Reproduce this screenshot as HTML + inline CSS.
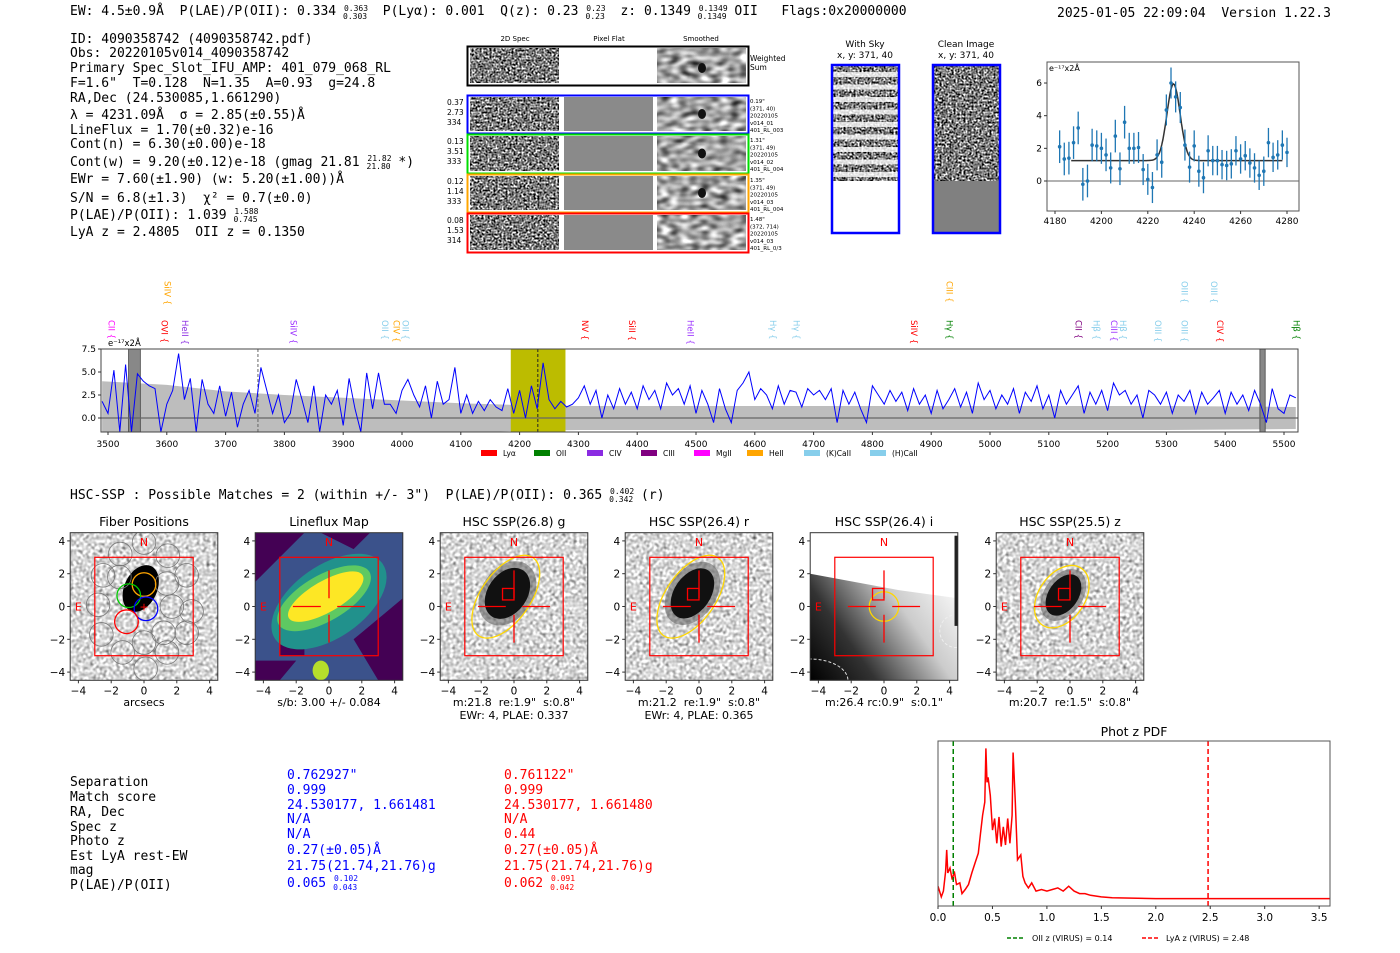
<!DOCTYPE html>
<html><head><meta charset="utf-8">
<style>
html,body{margin:0;padding:0;background:#fff;}
svg{display:block;}
svg text{white-space:pre;}
.m{font-family:"DejaVu Sans Mono","Liberation Mono",monospace;font-size:13px;}
.s{font-family:"DejaVu Sans","Liberation Sans",sans-serif;}
</style></head>
<body>
<svg id="root" width="1400" height="953" viewBox="0 0 1400 953" xmlns="http://www.w3.org/2000/svg">
<defs>
<filter id="noise" x="0" y="0" width="100%" height="100%" color-interpolation-filters="sRGB">
<feTurbulence type="fractalNoise" baseFrequency="0.5" numOctaves="1" seed="3"/>
<feColorMatrix type="matrix" values="0.33 0.33 0.33 0 0  0.33 0.33 0.33 0 0  0.33 0.33 0.33 0 0  0 0 0 0 1"/>
<feComponentTransfer><feFuncR type="linear" slope="4" intercept="-1.5"/><feFuncG type="linear" slope="4" intercept="-1.5"/><feFuncB type="linear" slope="4" intercept="-1.5"/></feComponentTransfer>
</filter>
<filter id="lnoise" x="0" y="0" width="100%" height="100%" color-interpolation-filters="sRGB">
<feTurbulence type="fractalNoise" baseFrequency="0.3" numOctaves="1" seed="7"/>
<feColorMatrix type="matrix" values="0.33 0.33 0.33 0 0  0.33 0.33 0.33 0 0  0.33 0.33 0.33 0 0  0 0 0 0 1"/>
<feComponentTransfer><feFuncR type="linear" slope="1.8" intercept="-0.05"/><feFuncG type="linear" slope="1.8" intercept="-0.05"/><feFuncB type="linear" slope="1.8" intercept="-0.05"/></feComponentTransfer>
</filter>
<filter id="smooth" x="0" y="0" width="100%" height="100%" color-interpolation-filters="sRGB">
<feTurbulence type="fractalNoise" baseFrequency="0.1 0.18" numOctaves="1" seed="5"/>
<feColorMatrix type="matrix" values="0.33 0.33 0.33 0 0  0.33 0.33 0.33 0 0  0.33 0.33 0.33 0 0  0 0 0 0 1"/>
<feComponentTransfer><feFuncR type="linear" slope="2.5" intercept="-0.6"/><feFuncG type="linear" slope="2.5" intercept="-0.6"/><feFuncB type="linear" slope="2.5" intercept="-0.6"/></feComponentTransfer>
</filter>
<linearGradient id="igrad" x1="1" y1="0.3" x2="0" y2="1">
<stop offset="0" stop-color="#fff"/><stop offset="0.35" stop-color="#ccc"/><stop offset="0.7" stop-color="#333"/><stop offset="1" stop-color="#000"/>
</linearGradient>
<clipPath id="specclip"><rect x="101" y="349" width="1197" height="83"/></clipPath>
<clipPath id="zclip"><rect x="1047" y="62" width="252" height="149"/></clipPath>
<clipPath id="pclip"><rect x="938" y="741" width="392" height="165"/></clipPath>
</defs>

<!-- header -->
<text class="m" x="70" y="15">EW: 4.5±0.9Å  P(LAE)/P(OII): 0.334 <tspan font-size="8" dy="-4">0.363</tspan><tspan font-size="8" dx="-25" dy="8">0.303</tspan><tspan dy="-4">  P(Lyα): 0.001  Q(z): 0.23 </tspan><tspan font-size="8" dy="-4">0.23</tspan><tspan font-size="8" dx="-20" dy="8">0.23</tspan><tspan dy="-4">  z: 0.1349 </tspan><tspan font-size="8" dy="-4">0.1349</tspan><tspan font-size="8" dx="-30" dy="8">0.1349</tspan><tspan dy="-4"> OII   Flags:0x20000000</tspan></text>
<text class="m" x="1057" y="17">2025-01-05 22:09:04  Version 1.22.3</text>

<g class="m">
<text x="70" y="43">ID: 4090358742 (4090358742.pdf)</text>
<text x="70" y="57">Obs: 20220105v014_4090358742</text>
<text x="70" y="72">Primary Spec_Slot_IFU_AMP: 401_079_068_RL</text>
<text x="70" y="87">F=1.6"  T=0.128  N=1.35  A=0.93  g=24.8</text>
<text x="70" y="102">RA,Dec (24.530085,1.661290)</text>
<text x="70" y="119">λ = 4231.09Å  σ = 2.85(±0.55)Å</text>
<text x="70" y="134">LineFlux = 1.70(±0.32)e-16</text>
<text x="70" y="148">Cont(n) = 6.30(±0.00)e-18</text>
<text x="70" y="166">Cont(w) = 9.20(±0.12)e-18 (gmag 21.81 <tspan font-size="8" dy="-5">21.82</tspan><tspan font-size="8" dx="-25" dy="8">21.80</tspan><tspan dy="-3"> *)</tspan></text>
<text x="70" y="183">EWr = 7.60(±1.90) (w: 5.20(±1.00))Å</text>
<text x="70" y="202">S/N = 6.8(±1.3)  χ² = 0.7(±0.0)</text>
<text x="70" y="219">P(LAE)/P(OII): 1.039 <tspan font-size="8" dy="-5">1.588</tspan><tspan font-size="8" dx="-25" dy="8">0.745</tspan></text>
<text x="70" y="236">LyA z = 2.4805  OII z = 0.1350</text>
</g>

<g id="spec2d" class="s"></g>
<g id="skyimgs" class="s"></g>
<g id="zoomfit" class="s"></g>
<g id="fullspec" class="s"></g>

<text class="m" x="70" y="499">HSC-SSP : Possible Matches = 2 (within +/- 3")  P(LAE)/P(OII): 0.365 <tspan font-size="8" dy="-5">0.402</tspan><tspan font-size="8" dx="-25" dy="8">0.342</tspan><tspan dy="-3"> (r)</tspan></text>

<g id="panels" class="s"></g>

<g class="m">
<text x="70" y="786">Separation</text>
<text x="70" y="801">Match score</text>
<text x="70" y="816">RA, Dec</text>
<text x="70" y="831">Spec z</text>
<text x="70" y="845">Photo z</text>
<text x="70" y="860">Est LyA rest-EW</text>
<text x="70" y="874">mag</text>
<text x="70" y="889">P(LAE)/P(OII)</text>
<g fill="#0000ff">
<text x="287" y="779">0.762927"</text>
<text x="287" y="794">0.999</text>
<text x="287" y="809">24.530177, 1.661481</text>
<text x="287" y="823">N/A</text>
<text x="287" y="838">N/A</text>
<text x="287" y="854">0.27(±0.05)Å</text>
<text x="287" y="870">21.75(21.74,21.76)g</text>
<text x="287" y="887">0.065 <tspan font-size="8" dy="-6">0.102</tspan><tspan font-size="8" dx="-25" dy="9">0.043</tspan></text>
</g>
<g fill="#ff0000">
<text x="504" y="779">0.761122"</text>
<text x="504" y="794">0.999</text>
<text x="504" y="809">24.530177, 1.661480</text>
<text x="504" y="823">N/A</text>
<text x="504" y="838">0.44</text>
<text x="504" y="854">0.27(±0.05)Å</text>
<text x="504" y="870">21.75(21.74,21.76)g</text>
<text x="504" y="887">0.062 <tspan font-size="8" dy="-6">0.091</tspan><tspan font-size="8" dx="-25" dy="9">0.042</tspan></text>
</g>
</g>

<g id="photz" class="s"></g>
</svg>

<script>
// ---------- data ----------
var specStart = 3490, specStep = 10;
var specFlux = [1.8,0.5,5.2,-1.5,5.8,-1.5,4.8,4.0,3.5,3.2,-1.5,
1.5,3.0,7.0,2.0,4.3,-1.5,4.2,1.5,0.5,3.5,0.2,
2.8,-1.0,1.5,3.0,0.5,5.5,3.0,0.5,2.5,-0.5,
0.5,4.2,2.0,-0.5,3.5,-1.5,2.5,1.5,3.0,-0.8,
4.3,1.0,-1.5,4.9,1.0,4.9,1.5,1.5,0.5,3.0,
4.2,2.5,1.2,3.5,0.0,4.0,1.5,2.0,5.5,0.5,
2.5,0.5,1.8,0.8,2.0,1.2,0.8,3.2,0.5,3.0,
0.0,3.5,1.0,6.0,2.0,1.0,1.8,1.2,1.5,2.2,
3.5,1.5,3.0,0.0,2.5,1.0,3.2,1.5,2.8,1.0,
3.5,2.0,3.0,1.0,3.8,2.5,3.2,1.5,3.5,0.5,
3.0,1.5,-0.5,3.2,1.0,-0.5,3.0,3.8,5.0,2.0,
3.2,2.5,1.0,3.5,1.5,3.0,2.8,1.2,3.2,2.5,
3.0,2.0,3.2,-0.5,3.0,1.5,2.8,1.0,-0.5,3.5,
2.5,1.5,3.0,1.8,2.8,0.8,3.2,1.5,2.5,0.5,
3.0,1.0,2.0,3.2,1.2,2.8,0.5,3.8,2.0,3.0,
1.0,2.5,1.5,3.2,0.5,2.8,1.8,3.5,1.0,2.5,
0.0,3.0,1.5,2.5,3.5,0.5,2.8,1.5,3.0,0.8,
3.8,2.5,3.0,1.5,2.5,0.0,3.0,2.5,1.5,2.8,
0.5,2.5,1.8,3.0,0.5,2.8,1.5,2.2,3.0,0.5,
2.8,1.5,2.5,0.8,3.0,1.5,-0.5,3.2,1.0,0.5,
2.5,2.2];
var errWave = [3490,3600,3700,3800,3900,4000,4100,4200,4300,4500,5000,5300,5520];
var errVal  = [4.0,3.6,2.9,2.5,2.2,1.9,1.6,1.4,1.3,1.3,1.3,1.3,1.2];
var specTicksX = [3500,3600,3700,3800,3900,4000,4100,4200,4300,4400,4500,4600,4700,4800,4900,5000,5100,5200,5300,5400,5500];
var specTicksY = [0,2.5,5,7.5];
var lineNames = ["CII","OVI","SiIV","HeII","SiIV","OII","CIV","OII","NV","SiII","HeII","Hγ","Hγ","SiIV","Hγ","CIII","CII","Hβ","CIII","Hβ","OIII","OIII","OIII","OIII","CIV","Hβ"];
var lineWave = [3505,3595,3600,3630,3815,3970,3990,4005,4310,4390,4490,4630,4670,4870,4930,4930,5150,5180,5210,5225,5285,5330,5330,5380,5390,5520];
var lineColors = ["#ff00ff","#ff0000","#ffa500","#8a2be2","#9b30ff","#87ceeb","#ffa500","#87ceeb","#ff0000","#ff0000","#9b30ff","#87ceeb","#87ceeb","#ff0000","#008000","#ffa500","#800080","#87ceeb","#9b30ff","#87ceeb","#87ceeb","#87ceeb","#87ceeb","#87ceeb","#ff0000","#008000"];
var lineRow = [0,0,1,0,0,0,0,0,0,0,0,0,0,0,0,1,0,0,0,0,0,0,1,1,0,0];
var legendNames = ["Lyα","OII","CIV","CIII","MgII","HeII","(K)CaII","(H)CaII"];
var legendColors = ["#ff0000","#008000","#8a2be2","#800080","#ff00ff","#ffa500","#87ceeb","#87ceeb"];

var fitWave = [4182,4184,4186,4188,4190,4192,4194,4196,4198,4200,4202,4204,4206,4208,4210,4212,4214,4216,4218,4220,4222,4224,4226,4228,4230,4232,4234,4236,4238,4240,4242,4244,4246,4248,4250,4252,4254,4256,4258,4260,4262,4264,4266,4268,4270,4272,4274,4276,4278,4280];
var fitFlux = [2.1,1.35,1.4,2.35,3.25,-0.2,0,2.2,2.15,2.0,1.6,0.8,2.75,0.75,3.6,2.0,2.0,2.05,0.7,0.1,-0.4,1.6,1.15,4.35,6.0,5.15,4.5,2.2,0.85,2.15,0.6,0.2,1.85,1.25,1.25,1.0,0.95,1.05,1.85,1.35,1.55,1.1,0.8,0.35,0.6,2.35,1.45,1.6,2.2,1.75];
var fitErr = [1.0,1.0,1.0,1.0,1.0,1.0,1.0,1.0,0.95,0.95,1.0,0.95,1.0,1.0,1.0,0.95,0.95,0.95,0.95,0.95,0.95,0.95,0.95,0.95,0.95,0.95,0.95,0.95,0.95,0.95,0.95,0.95,0.95,0.9,0.9,0.9,0.9,0.9,0.9,0.9,0.9,0.9,0.9,0.9,0.9,0.9,0.9,0.9,0.9,0.9];
var fitParams = [4231.09, 2.85, 4.7, 1.25]; // center, sigma, amplitude, continuum
var fitTicksX = [4180,4200,4220,4240,4260,4280];
var fitTicksY = [0,2,4,6];

var pdfZ = [0.00,0.03,0.05,0.07,0.08,0.09,0.11,0.13,0.15,0.17,0.20,0.22,0.25,0.28,0.31,0.34,0.37,0.39,0.41,0.43,0.44,0.45,0.46,0.48,0.50,0.52,0.54,0.56,0.58,0.60,0.62,0.64,0.66,0.68,0.69,0.71,0.73,0.76,0.78,0.80,0.83,0.86,0.90,0.95,1.00,1.05,1.10,1.15,1.20,1.25,1.30,1.35,1.40,1.50,1.60,2.00,3.60];
var pdfVal = [0.12,0.055,0.09,0.21,0.34,0.20,0.23,0.16,0.21,0.13,0.14,0.075,0.10,0.13,0.20,0.26,0.32,0.44,0.55,0.63,0.955,0.75,0.78,0.67,0.46,0.53,0.38,0.54,0.36,0.48,0.37,0.53,0.38,0.55,0.93,0.63,0.28,0.31,0.18,0.14,0.11,0.14,0.09,0.10,0.09,0.10,0.11,0.09,0.12,0.09,0.075,0.075,0.065,0.055,0.05,0.045,0.045];
var pdfTicks = [0.0,0.5,1.0,1.5,2.0,2.5,3.0,3.5];
var oiiZ = 0.14, lyaZ = 2.48;

var panelTitles = ["Fiber Positions","Lineflux Map","HSC SSP(26.8) g","HSC SSP(26.4) r","HSC SSP(26.4) i","HSC SSP(25.5) z"];
var panelCaption1 = ["arcsecs","s/b: 3.00 +/- 0.084","m:21.8  re:1.9\"  s:0.8\"","m:21.2  re:1.9\"  s:0.8\"","m:26.4 rc:0.9\"  s:0.1\"","m:20.7  re:1.5\"  s:0.8\""];
var panelCaption2 = ["","","EWr: 4, PLAE: 0.337","EWr: 4, PLAE: 0.365","",""];
var panelTicks = [-4,-2,0,2,4];

// ---------- helpers ----------
var NS = "http://www.w3.org/2000/svg";
function mk(parent, tag, attrs, txt){
  var e = document.createElementNS(NS, tag);
  for (var k in attrs) e.setAttribute(k, attrs[k]);
  if (txt !== undefined) e.textContent = txt;
  parent.appendChild(e);
  return e;
}
function fmt(v){ return (v<0?"\u2212":"") + Math.abs(v); }

// ---------- 2D spectra ----------
(function(){
  var g = document.getElementById("spec2d");
  var hdr = [["2D Spec",515],["Pixel Flat",609],["Smoothed",701]];
  hdr.forEach(function(h){ var t=mk(g,"text",{x:h[1],y:41,"font-size":7,"text-anchor":"middle"},h[0]);
    
     });
  var rows = [{y:46,h:39,c:"#000",lbl:null,r:["Weighted","Sum"]},
    {y:95,h:38,c:"#0000ff",lbl:["0.37","2.73","334"],r:["0.19\"","(371, 40)","20220105","v014_01","401_RL_003"]},
    {y:134,h:39,c:"#00dd00",lbl:["0.13","3.51","333"],r:["1.31\"","(371, 49)","20220105","v014_02","401_RL_004"]},
    {y:174,h:38,c:"#ffa500",lbl:["0.12","1.14","333"],r:["1.35\"","(371, 49)","20220105","v014_03","401_RL_004"]},
    {y:213,h:39,c:"#ff0000",lbl:["0.08","1.53","314"],r:["1.48\"","(372, 714)","20220105","v014_03","401_RL_0/3"]}];
  rows.forEach(function(r,i){
    var a = mk(g,"rect",{x:470,y:r.y+2,width:89,height:r.h-4,fill:"#888",filter:"url(#noise)"});
    
    
    var b = mk(g,"rect",{x:564,y:r.y+2,width:89,height:r.h-4,fill:i==0?"#fff":"#8a8a8a"});
    
    
    var c = mk(g,"rect",{x:657,y:r.y+2,width:89,height:r.h-4,fill:"#999",filter:"url(#smooth)"});
    
    
    if (i!=0 && i!=4) mk(g,"ellipse",{cx:702,cy:r.y+r.h/2,rx:4,ry:5,fill:"#111"});
    if (i==0) mk(g,"ellipse",{cx:702,cy:r.y+22,rx:4,ry:5,fill:"#111"});
    var f = mk(g,"rect",{x:467.5,y:r.y+0.5,width:281,height:r.h,fill:"none",stroke:r.c,"stroke-width":2});
    
    
    if (r.lbl) r.lbl.forEach(function(s,j){ mk(g,"text",{x:447,y:r.y+10+j*10,"font-size":7.5},s); });
    var fs = i==0?7.5:5.5, dy = i==0?9:7.3;
    r.r.forEach(function(s,j){ mk(g,"text",{x:750,y:r.y+(i==0?15:8)+j*dy,"font-size":fs},s); });
  });
})();

// ---------- sky images ----------
(function(){
  var g = document.getElementById("skyimgs");
  [["With Sky",865,832],["Clean Image",966,933]].forEach(function(s,i){
    mk(g,"text",{x:s[1],y:47,"font-size":9,"text-anchor":"middle"},s[0]);
    mk(g,"text",{x:s[1],y:58,"font-size":9,"text-anchor":"middle"},"x, y: 371, 40");
    var im = mk(g,"rect",{x:s[2],y:66,width:66,height:115,fill:"#888",filter:"url(#noise)"});
    
    
    if (i==0){ for (var k=0;k<9;k++) mk(g,"rect",{x:s[2],y:72+k*12.5,width:66,height:5,fill:"#fff",opacity:0.8});
      mk(g,"rect",{x:s[2],y:181,width:66,height:51,fill:"#fff"}); }
    else mk(g,"rect",{x:s[2],y:181,width:66,height:51,fill:"#808080"});
    var fr = mk(g,"rect",{x:s[2],y:65,width:67,height:168,fill:"none",stroke:"#0000ff","stroke-width":2.5});
    
    
  });
})();

// ---------- zoom fit chart ----------
(function(){
  var g = document.getElementById("zoomfit");
  function X(w){ return 1055 + (w-4180)*2.32; }
  function Y(v){ return 181 - v*16.33; }
  var bg = mk(g,"rect",{x:1047,y:62,width:252,height:149,fill:"#fff",stroke:"#555","stroke-width":1});
  
  
  mk(g,"line",{x1:1047,x2:1299,y1:Y(0),y2:Y(0),stroke:"#666","stroke-width":1});
  var cg = mk(g,"g",{"clip-path":"url(#zclip)"});
  var pts=[];
  for (var w=4187; w<=4278; w+=0.5){ var d=(w-fitParams[0])/fitParams[1]; pts.push(X(w).toFixed(1)+","+Y(fitParams[3]+fitParams[2]*Math.exp(-0.5*d*d)).toFixed(1)); }
  var fl = mk(cg,"polyline",{points:pts.join(" "),fill:"none",stroke:"#333","stroke-width":1.5});
  
  
  for (var i=0;i<fitWave.length;i++){
    var x=X(fitWave[i]);
    var eb = mk(cg,"line",{x1:x,x2:x,y1:Y(fitFlux[i]-fitErr[i]),y2:Y(fitFlux[i]+fitErr[i]),stroke:"#1f77b4","stroke-width":1.3});
    
    
    var p = mk(cg,"circle",{cx:x,cy:Y(fitFlux[i]),r:1.8,fill:"#1f77b4"});
    
    
  }
  fitTicksX.forEach(function(t){ mk(g,"line",{x1:X(t),x2:X(t),y1:211,y2:214,stroke:"#333"});
    var l=mk(g,"text",{x:X(t),y:224,"font-size":9,"text-anchor":"middle"},t);
    
     });
  fitTicksY.forEach(function(t){ mk(g,"line",{x1:1044,x2:1047,y1:Y(t),y2:Y(t),stroke:"#333"});
    var l=mk(g,"text",{x:1042,y:Y(t)+3,"font-size":9,"text-anchor":"end"},t);
    
     });
  mk(g,"text",{x:1049,y:71,"font-size":8},"e⁻¹⁷x2Å");
})();

// ---------- full spectrum ----------
(function(){
  var g = document.getElementById("fullspec");
  function X(w){ return 108 + (w-3500)*0.588; }
  function Y(v){ return 418 - v*9.2; }
  var bg = mk(g,"rect",{x:101,y:349,width:1197,height:83,fill:"#fff"});
  
  
  var cg = mk(g,"g",{"clip-path":"url(#specclip)"});
  var up=[],dn=[];
  for (var i=0;i<errWave.length;i++){ up.push(X(errWave[i])+","+Y(errVal[i])); dn.unshift(X(errWave[i])+","+Y(-errVal[i])); }
  var env = mk(cg,"polygon",{points:up.concat(dn).join(" "),fill:"#bdbdbd"});
  
  
  var band = mk(cg,"rect",{x:X(4185),y:349,width:X(4278)-X(4185),height:83,fill:"#bcbc00"});
  
  
  [[3535,3555],[5459,5468]].forEach(function(m){
    var r = mk(cg,"rect",{x:X(m[0]),y:349,width:X(m[1])-X(m[0]),height:83,fill:"#888",stroke:"#444","stroke-width":0.8});
    
     });
  mk(cg,"line",{x1:101,x2:1298,y1:Y(0),y2:Y(0),stroke:"#666","stroke-width":1.2});
  [3755,4231].forEach(function(w,i){ mk(cg,"line",{x1:X(w),x2:X(w),y1:349,y2:432,stroke:i?"#222":"#666","stroke-dasharray":"3,2","stroke-width":1}); });
  var pts=[];
  for (var i=0;i<specFlux.length;i++) pts.push(X(specStart+i*specStep).toFixed(1)+","+Y(specFlux[i]).toFixed(1));
  var ln = mk(cg,"polyline",{points:pts.join(" "),fill:"none",stroke:"#0000ff","stroke-width":1});
  
  
  var fr = mk(g,"rect",{x:101,y:349,width:1197,height:83,fill:"none",stroke:"#444","stroke-width":1});
  
  
  specTicksX.forEach(function(t){ mk(g,"line",{x1:X(t),x2:X(t),y1:432,y2:435,stroke:"#333"});
    var l=mk(g,"text",{x:X(t),y:447,"font-size":9,"text-anchor":"middle"},t);
    
     });
  specTicksY.forEach(function(t){ mk(g,"line",{x1:98,x2:101,y1:Y(t),y2:Y(t),stroke:"#333"});
    var l=mk(g,"text",{x:96,y:Y(t)+3,"font-size":9,"text-anchor":"end"},t.toFixed(1));
    
     });
  mk(g,"text",{x:108,y:346,"font-size":8.5},"e⁻¹⁷x2Å");
  for (var i=0;i<lineNames.length;i++){
    var x = X(lineWave[i]), ytop = lineRow[i] ? 281 : 320;
    var t = mk(g,"text",{x:x,y:ytop,"font-size":8.5,fill:lineColors[i],transform:"rotate(90 "+x+" "+ytop+")","dominant-baseline":"middle"},lineNames[i]+" {");
    
    
  }
  var lx = [481,534,587,641,694,747,804,870];
  for (var i=0;i<legendNames.length;i++){
    var sw = mk(g,"rect",{x:lx[i],y:450,width:16,height:6,fill:legendColors[i]});
    
    
    var lt = mk(g,"text",{x:lx[i]+22,y:456,"font-size":7.5},legendNames[i]);
    
    
  }
})();

// ---------- imaging panels ----------
(function(){
  var g = document.getElementById("panels");
  var defs = document.querySelector("defs");
  var centers = [144,329,514,699,884,1070], cy = 606.5, s = 16.4;
  centers.forEach(function(cx,p){
    var pg = mk(g,"g",{});
    
    
    var x0=cx-4.5*s, y0=cy-4.5*s, W=9*s;
    var cp = mk(defs,"clipPath",{id:"pc"+p});
    mk(cp,"rect",{x:x0,y:y0,width:W,height:W});
    mk(pg,"text",{x:cx,y:526,"font-size":12.5,"text-anchor":"middle"},panelTitles[p]);
    var ig = mk(pg,"g",{"clip-path":"url(#pc"+p+")"});
    if (p==1){
      mk(ig,"rect",{x:x0,y:y0,width:W,height:W,fill:"#3b528b"});
      mk(ig,"polygon",{points:[cx-4.5*s,cy-1.5*s, cx-1.5*s,cy-4.5*s, cx-4.5*s,cy-4.5*s].join(" "),fill:"#440154"});
      mk(ig,"polygon",{points:[cx-0.5*s,cy-4.5*s, cx+2.5*s,cy-4.5*s, cx+1.5*s,cy-3.5*s].join(" "),fill:"#440154"});
      mk(ig,"polygon",{points:[cx-3*s,cy+1.5*s, cx-1.5*s,cy+1.5*s, cx-1.5*s,cy+3*s, cx-3*s,cy+3*s].join(" "),fill:"#440154"});
      mk(ig,"polygon",{points:[cx+1.5*s,cy+2*s, cx+4.5*s,cy-0.5*s, cx+4.5*s,cy+4.5*s, cx+3*s,cy+4.5*s].join(" "),fill:"#440154"});
      mk(ig,"polygon",{points:[cx-4.5*s,cy+3.3*s, cx-2*s,cy+3.3*s, cx-3*s,cy+4.5*s, cx-4.5*s,cy+4.5*s].join(" "),fill:"#440154"});
      mk(ig,"ellipse",{cx:cx,cy:cy-0.3*s,rx:4*s,ry:2.2*s,fill:"#21918c",transform:"rotate(-35 "+cx+" "+(cy-0.3*s)+")"});
      mk(ig,"ellipse",{cx:cx-0.3*s,cy:cy-0.5*s,rx:3.2*s,ry:1.4*s,fill:"#5ec962",transform:"rotate(-30 "+(cx-0.3*s)+" "+(cy-0.5*s)+")"});
      mk(ig,"ellipse",{cx:cx-0.2*s,cy:cy-0.6*s,rx:2.6*s,ry:0.95*s,fill:"#fde725",transform:"rotate(-30 "+(cx-0.2*s)+" "+(cy-0.6*s)+")"});
      mk(ig,"ellipse",{cx:cx-0.5*s,cy:cy+3.9*s,rx:0.5*s,ry:0.6*s,fill:"#b5de2b"});
    } else if (p==4){
      mk(ig,"rect",{x:x0,y:y0,width:W,height:W,fill:"url(#igrad)"});
      mk(ig,"polygon",{points:[x0,y0, x0+W,y0, x0+W,cy-0.5*s, x0+W*0.6,cy-1*s, x0,cy-2*s].join(" "),fill:"#fff"});
      mk(ig,"ellipse",{cx:x0,cy:cy+4.5*s,rx:2.3*s,ry:1.3*s,fill:"none",stroke:"#ddd","stroke-dasharray":"3,2"});
      mk(ig,"circle",{cx:cx+4.4*s,cy:cy+1.5*s,r:1*s,fill:"none",stroke:"#eee","stroke-dasharray":"3,2"});
      mk(ig,"rect",{x:cx+4.3*s,y:y0+3,width:3,height:5.5*s,fill:"#222"});
    } else {
      mk(ig,"rect",{x:x0,y:y0,width:W,height:W,fill:"#ccc",filter:"url(#lnoise)"});
    }
    if (p==0){
      mk(ig,"ellipse",{cx:cx-0.2*s,cy:cy-1.1*s,rx:1.0*s,ry:1.5*s,fill:"#000",transform:"rotate(25 "+(cx-0.2*s)+" "+(cy-1.1*s)+")"});
      var grid=[[0,3.9],[-1.45,3.2],[1.45,3.1],[-2.5,1.9],[2.6,1.9],[-2.8,0.1],[1.4,1.4],[1.7,0.0],[2.9,-0.3],[-2.6,-1.7],[1.2,-1.6],[2.6,-1.6],[-1.3,-2.8],[0,-2.2],[1.4,-2.8],[0.1,-3.8],[-1.5,1.8]];
      grid.forEach(function(q){ mk(ig,"circle",{cx:cx+q[0]*s,cy:cy-q[1]*s,r:0.72*s,fill:"none",stroke:"#777","stroke-width":0.8}); });
      [["#ffa500",0,1.34],["#00cc00",-0.93,0.66],["#0000ff",0.12,-0.14],["#ff0000",-1.07,-0.93]].forEach(function(q){
        var c = mk(ig,"circle",{cx:cx+q[1]*s,cy:cy-q[2]*s,r:0.72*s,fill:"none",stroke:q[0],"stroke-width":1.3});
        
         });
      mk(ig,"text",{x:cx,y:cy+4,"font-size":11,"text-anchor":"middle",fill:"#f00"},"+");
    }
    if (p>=2){
      var gal = p==2?[-0.4,0.8,1.2,1.7]:p==3?[-0.4,0.8,1.1,1.7]:p==5?[-0.4,0.7,0.9,1.4]:null;
      if (gal){
        mk(ig,"ellipse",{cx:cx+gal[0]*s,cy:cy-gal[1]*s,rx:gal[2]*s*1.3,ry:gal[3]*s*1.25,fill:"#666",opacity:0.6,transform:"rotate(35 "+(cx+gal[0]*s)+" "+(cy-gal[1]*s)+")"});
        mk(ig,"ellipse",{cx:cx+gal[0]*s,cy:cy-gal[1]*s,rx:gal[2]*s,ry:gal[3]*s,fill:"#111",transform:"rotate(35 "+(cx+gal[0]*s)+" "+(cy-gal[1]*s)+")"});
      }
      var el = p==4 ? mk(ig,"circle",{cx:cx,cy:cy,r:0.9*s,fill:"none",stroke:"#ffd700","stroke-width":1.3})
        : mk(ig,"ellipse",{cx:cx-0.5*s,cy:cy-0.6*s,rx:p==5?1.4*s:1.5*s,ry:p==5?2.1*s:2.9*s,fill:"none",stroke:"#ffd700","stroke-width":1.3,transform:"rotate(35 "+(cx-0.5*s)+" "+(cy-0.6*s)+")"});
      
      
      mk(ig,"rect",{x:cx-0.7*s,y:cy-1.1*s,width:0.7*s,height:0.7*s,fill:"none",stroke:"#f00","stroke-width":1.3});
    }
    if (p>=1){
      mk(ig,"line",{x1:cx-2.2*s,x2:cx-0.5*s,y1:cy,y2:cy,stroke:"#f00","stroke-width":1.3});
      mk(ig,"line",{x1:cx+0.5*s,x2:cx+2.2*s,y1:cy,y2:cy,stroke:"#f00","stroke-width":1.3});
      mk(ig,"line",{x1:cx,x2:cx,y1:cy-2.2*s,y2:cy-0.5*s,stroke:"#f00","stroke-width":1.3});
      mk(ig,"line",{x1:cx,x2:cx,y1:cy+0.5*s,y2:cy+2.2*s,stroke:"#f00","stroke-width":1.3});
    }
    var box = mk(pg,"rect",{x:cx-3*s,y:cy-3*s,width:6*s,height:6*s,fill:"none",stroke:"#f00","stroke-width":1.2});
    
    
    mk(pg,"text",{x:cx,y:cy-4*s+5,"font-size":11,"text-anchor":"middle",fill:"#f00"},"N");
    mk(pg,"text",{x:cx-4*s,y:cy+4,"font-size":11,"text-anchor":"middle",fill:"#f00"},"E");
    mk(pg,"rect",{x:x0,y:y0,width:W,height:W,fill:"none",stroke:"#333","stroke-width":1});
    panelTicks.forEach(function(t){
      mk(pg,"line",{x1:cx+t*s,x2:cx+t*s,y1:y0+W,y2:y0+W+3,stroke:"#333"});
      mk(pg,"text",{x:cx+t*s,y:y0+W+14,"font-size":10.5,"text-anchor":"middle"},fmt(t));
      mk(pg,"line",{x1:x0-3,x2:x0,y1:cy-t*s,y2:cy-t*s,stroke:"#333"});
      mk(pg,"text",{x:x0-5,y:cy-t*s+4,"font-size":10.5,"text-anchor":"end"},fmt(t));
    });
    mk(pg,"text",{x:cx,y:706,"font-size":11,"text-anchor":"middle"},panelCaption1[p]);
    if (panelCaption2[p]) mk(pg,"text",{x:cx,y:719,"font-size":11,"text-anchor":"middle"},panelCaption2[p]);
  });
})();

// ---------- phot z PDF ----------
(function(){
  var g = document.getElementById("photz");
  function X(z){ return 938 + z*108.9; }
  function Y(v){ return 906 - v*165; }
  var bg = mk(g,"rect",{x:938,y:741,width:392,height:165,fill:"#fff"});
  
  
  mk(g,"text",{x:1134,y:736,"font-size":12.5,"text-anchor":"middle"},"Phot z PDF");
  var cg = mk(g,"g",{"clip-path":"url(#pclip)"});
  var pts=[];
  for (var i=0;i<pdfZ.length;i++) pts.push(X(pdfZ[i]).toFixed(1)+","+Y(pdfVal[i]).toFixed(1));
  var l = mk(cg,"polyline",{points:pts.join(" "),fill:"none",stroke:"#ff0000","stroke-width":1.5});
  
  
  var o = mk(cg,"line",{x1:X(oiiZ),x2:X(oiiZ),y1:741,y2:906,stroke:"#008000","stroke-width":1.5,"stroke-dasharray":"5,3"});
  
  
  var ly = mk(cg,"line",{x1:X(lyaZ),x2:X(lyaZ),y1:741,y2:906,stroke:"#ff0000","stroke-width":1.5,"stroke-dasharray":"5,3"});
  
  
  mk(g,"rect",{x:938,y:741,width:392,height:165,fill:"none",stroke:"#555","stroke-width":1});
  pdfTicks.forEach(function(t){ mk(g,"line",{x1:X(t),x2:X(t),y1:906,y2:909,stroke:"#333"});
    var tl=mk(g,"text",{x:X(t),y:921,"font-size":10.5,"text-anchor":"middle"},t.toFixed(1));
    
     });
  mk(g,"line",{x1:1007,x2:1025,y1:938,y2:938,stroke:"#008000","stroke-width":1.5,"stroke-dasharray":"4,2"});
  mk(g,"text",{x:1032,y:941,"font-size":8},"OII z (VIRUS) = 0.14");
  mk(g,"line",{x1:1142,x2:1160,y1:938,y2:938,stroke:"#ff0000","stroke-width":1.5,"stroke-dasharray":"4,2"});
  mk(g,"text",{x:1166,y:941,"font-size":8},"LyA z (VIRUS) = 2.48");
})();
</script>
</body></html>
